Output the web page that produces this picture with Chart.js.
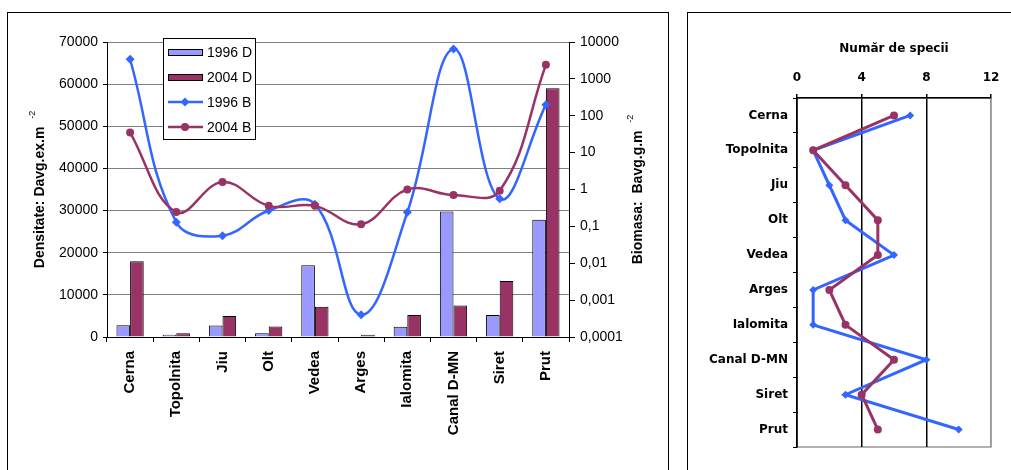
<!DOCTYPE html>
<html>
<head>
<meta charset="utf-8">
<script src="https://cdn.jsdelivr.net/npm/chart.js@4.4.1/dist/chart.umd.min.js"></script>
<style>
  body { margin: 0; background: #fff; }
  .frame { position: absolute; border: 1px solid #000; box-sizing: border-box; }
  #leftFrame { left: 7px; top: 12px; width: 662px; height: 480px; }
  #rightFrame { left: 687px; top: 12px; width: 400px; height: 480px; }
  #densChart { position: absolute; left: 0; top: 0; }
  #speciesChart { position: absolute; left: 680px; top: 0; }
</style>
</head>
<body>
<div class="frame" id="leftFrame"></div>
<div class="frame" id="rightFrame"></div>
<canvas id="densChart" width="675" height="470"></canvas>
<canvas id="speciesChart" width="331" height="470"></canvas>
<script>
const rivers = ['Cerna', 'Topolnita', 'Jiu', 'Olt', 'Vedea', 'Arges', 'Ialomita', 'Canal D-MN', 'Siret', 'Prut'];

// densitate (ex/m2)
const dens1996 = [2800, 550, 2700, 900, 17000, 200, 2450, 29800, 5200, 27800];
const dens2004 = [18000, 900, 5000, 2500, 7200, 550, 5200, 7500, 13300, 59000];
// biomasa (g/m2), axa logaritmica
const bio1996 = [3400, 0.13, 0.056, 0.27, 0.4, 0.0004, 0.24, 6500, 0.56, 200];
const bio2004 = [35, 0.245, 1.6, 0.36, 0.36, 0.114, 1.0, 0.71, 0.93, 2400];
// numar de specii
const species1996 = [7, 1, 2, 3, 6, 1, 1, 8, 3, 10];
const species2004 = [6, 1, 3, 5, 5, 2, 3, 6, 4, 5];

const densTicks = [0, 10000, 20000, 30000, 40000, 50000, 60000, 70000];
const bioTicks = [0.0001, 0.001, 0.01, 0.1, 1, 10, 100, 1000, 10000];
const bioTickLabels = ['0,0001', '0,001', '0,01', '0,1', '1', '10', '100', '1000', '10000'];
const speciesTicks = [0, 4, 8, 12];

const BLUE = '#3366FF';
const LILAC = '#9999FF';
const PLUM = '#993366';
const SANS = "'Liberation Sans', Arial, sans-serif";
const SMALL = "'DejaVu Sans', Verdana, sans-serif";

function setTicks(values) {
  return scale => { scale.ticks = values.map(v => ({ value: v })); };
}

// rotated axis titles with a superscript exponent
const axisTitles = {
  id: 'axisTitles',
  afterDraw(chart) {
    const ctx = chart.ctx;
    const midY = (chart.chartArea.top + chart.chartArea.bottom) / 2;
    const draw = (text, sup, x) => {
      ctx.save();
      ctx.translate(x, midY);
      ctx.rotate(-Math.PI / 2);
      ctx.fillStyle = '#000';
      ctx.textBaseline = 'middle';
      ctx.font = 'bold 14px ' + SANS;
      const w1 = ctx.measureText(text + '  ').width;
      ctx.font = '9px ' + SANS;
      const w2 = ctx.measureText(sup).width;
      const start = -(w1 + w2) / 2;
      ctx.textAlign = 'left';
      ctx.font = 'bold 14px ' + SANS;
      ctx.fillText(text, start, 0);
      ctx.font = '9px ' + SANS;
      ctx.fillText(sup, start + w1, -7);
      ctx.restore();
    };
    draw('Densitate: Davg.ex.m', '-2', 40);
    draw('Biomasa:  Bavg.g.m', '-2', 638);
  }
};

// boxed legend inside the plot
const boxLegend = {
  id: 'boxLegend',
  afterDraw(chart) {
    const ctx = chart.ctx;
    const x0 = 163, y0 = 38, w = 92, h = 101;
    ctx.save();
    ctx.fillStyle = '#fff';
    ctx.fillRect(x0, y0, w, h);
    ctx.strokeStyle = '#000';
    ctx.lineWidth = 1;
    ctx.strokeRect(x0 + 0.5, y0 + 0.5, w, h);
    ctx.font = '14px ' + SANS;
    ctx.textBaseline = 'middle';
    chart.data.datasets.forEach((ds, i) => {
      const cy = y0 + 14 + i * 25;
      if (ds.type === 'bar') {
        ctx.fillStyle = ds.backgroundColor;
        ctx.fillRect(x0 + 5, cy - 3, 35, 7);
        ctx.strokeStyle = '#000';
        ctx.strokeRect(x0 + 5.5, cy - 2.5, 34, 6);
      } else {
        ctx.strokeStyle = ds.borderColor;
        ctx.lineWidth = 2.5;
        ctx.beginPath();
        ctx.moveTo(x0 + 5, cy);
        ctx.lineTo(x0 + 40, cy);
        ctx.stroke();
        ctx.fillStyle = ds.borderColor;
        Chart.helpers.drawPoint(ctx, { pointStyle: ds.pointStyle, radius: ds.pointRadius, borderWidth: 0 }, x0 + 22, cy);
        ctx.lineWidth = 1;
      }
      ctx.fillStyle = '#000';
      ctx.fillText(ds.label, x0 + 44, cy + 1);
    });
    ctx.restore();
  }
};

new Chart(document.getElementById('densChart'), {
  data: {
    labels: rivers,
    datasets: [
      { type: 'bar', label: '1996 D', data: dens1996, yAxisID: 'y', backgroundColor: LILAC,
        borderColor: '#000', borderWidth: 1, categoryPercentage: 0.59, barPercentage: 1, order: 2 },
      { type: 'bar', label: '2004 D', data: dens2004, yAxisID: 'y', backgroundColor: PLUM,
        borderColor: '#000', borderWidth: 1, categoryPercentage: 0.59, barPercentage: 1, order: 3 },
      { type: 'line', label: '1996 B', data: bio1996, yAxisID: 'y1', borderColor: BLUE, backgroundColor: BLUE,
        borderWidth: 2.5, pointStyle: 'rectRot', pointRadius: 4.5, pointBorderWidth: 0, tension: 0.4, clip: false, order: 1 },
      { type: 'line', label: '2004 B', data: bio2004, yAxisID: 'y1', borderColor: PLUM, backgroundColor: PLUM,
        borderWidth: 2.5, pointStyle: 'circle', pointRadius: 4, pointBorderWidth: 0, tension: 0.4, clip: false, order: 0 }
    ]
  },
  options: {
    responsive: false,
    animation: false,
    layout: { padding: { top: 42, left: 0, right: 0, bottom: 0 } },
    plugins: { legend: { display: false }, tooltip: { enabled: false } },
    scales: {
      x: {
        type: 'category',
        offset: true,
        grid: { offset: true, drawOnChartArea: false, tickLength: 5, color: '#000' },
        border: { color: '#000' },
        ticks: { minRotation: 90, maxRotation: 90, padding: 9, color: '#000', font: { family: SANS, size: 15, weight: 'bold' } },
        afterFit: s => { s.height = 133; }
      },
      y: {
        position: 'left',
        min: 0,
        max: 70000,
        afterBuildTicks: setTicks(densTicks),
        grid: { color: '#808080', tickColor: '#000', tickLength: 4 },
        border: { color: '#000' },
        ticks: { padding: 5, color: '#000', font: { family: SANS, size: 14 }, callback: v => String(v) },
        afterFit: s => { s.width = 107; }
      },
      y1: {
        type: 'logarithmic',
        position: 'right',
        min: 0.0001,
        max: 10000,
        afterBuildTicks: setTicks(bioTicks),
        grid: { drawOnChartArea: false, color: '#000', tickLength: 6 },
        border: { color: '#000' },
        ticks: { padding: 5, color: '#000', font: { family: SANS, size: 14 },
          callback: (v, i) => bioTickLabels[i] },
        afterFit: s => { s.width = 106; }
      }
    }
  },
  plugins: [axisTitles, boxLegend]
});

// light frame on the right and bottom of the species plot
const grayFrame = {
  id: 'grayFrame',
  beforeDraw(chart) {
    const a = chart.chartArea;
    const ctx = chart.ctx;
    ctx.save();
    ctx.strokeStyle = '#999';
    ctx.lineWidth = 1.5;
    ctx.strokeRect(a.left, a.top, a.right - a.left, a.bottom - a.top);
    ctx.restore();
  }
};

new Chart(document.getElementById('speciesChart'), {
  type: 'line',
  data: {
    labels: rivers,
    datasets: [
      { label: '1996', data: species1996, borderColor: BLUE, backgroundColor: BLUE, borderWidth: 3,
        pointStyle: 'rectRot', pointRadius: 4, pointBorderWidth: 0, tension: 0, clip: false, order: 1 },
      { label: '2004', data: species2004, borderColor: PLUM, backgroundColor: PLUM, borderWidth: 3,
        pointStyle: 'circle', pointRadius: 4, pointBorderWidth: 0, tension: 0, clip: false, order: 0 }
    ]
  },
  options: {
    indexAxis: 'y',
    responsive: false,
    animation: false,
    layout: { padding: { top: 0, left: 0, right: 20, bottom: 23 } },
    plugins: { legend: { display: false }, tooltip: { enabled: false } },
    scales: {
      x: {
        type: 'linear',
        position: 'top',
        min: 0,
        max: 12,
        afterBuildTicks: setTicks(speciesTicks),
        grid: { color: ctx => (ctx.tick && ctx.tick.value === 12 ? '#999' : '#000'), tickColor: '#000', tickLength: 4, lineWidth: 1.5 },
        border: { color: '#000', width: 1.5 },
        ticks: { padding: 9, color: '#000', font: { family: SMALL, size: 12, weight: 'bold' } },
        title: { display: true, text: 'Număr de specii', color: '#000',
          font: { family: SMALL, size: 12, weight: 'bold' }, padding: { top: 42, bottom: 0 } },
        afterFit: s => { s.height = 98; }
      },
      y: {
        type: 'category',
        offset: true,
        grid: { offset: true, drawOnChartArea: false, tickLength: 4, color: '#000' },
        border: { color: '#000', width: 1.5 },
        ticks: { padding: 5, color: '#000', font: { family: SMALL, size: 12, weight: 'bold' } },
        afterFit: s => { s.width = 117; }
      }
    }
  },
  plugins: [grayFrame]
});
</script>
</body>
</html>
